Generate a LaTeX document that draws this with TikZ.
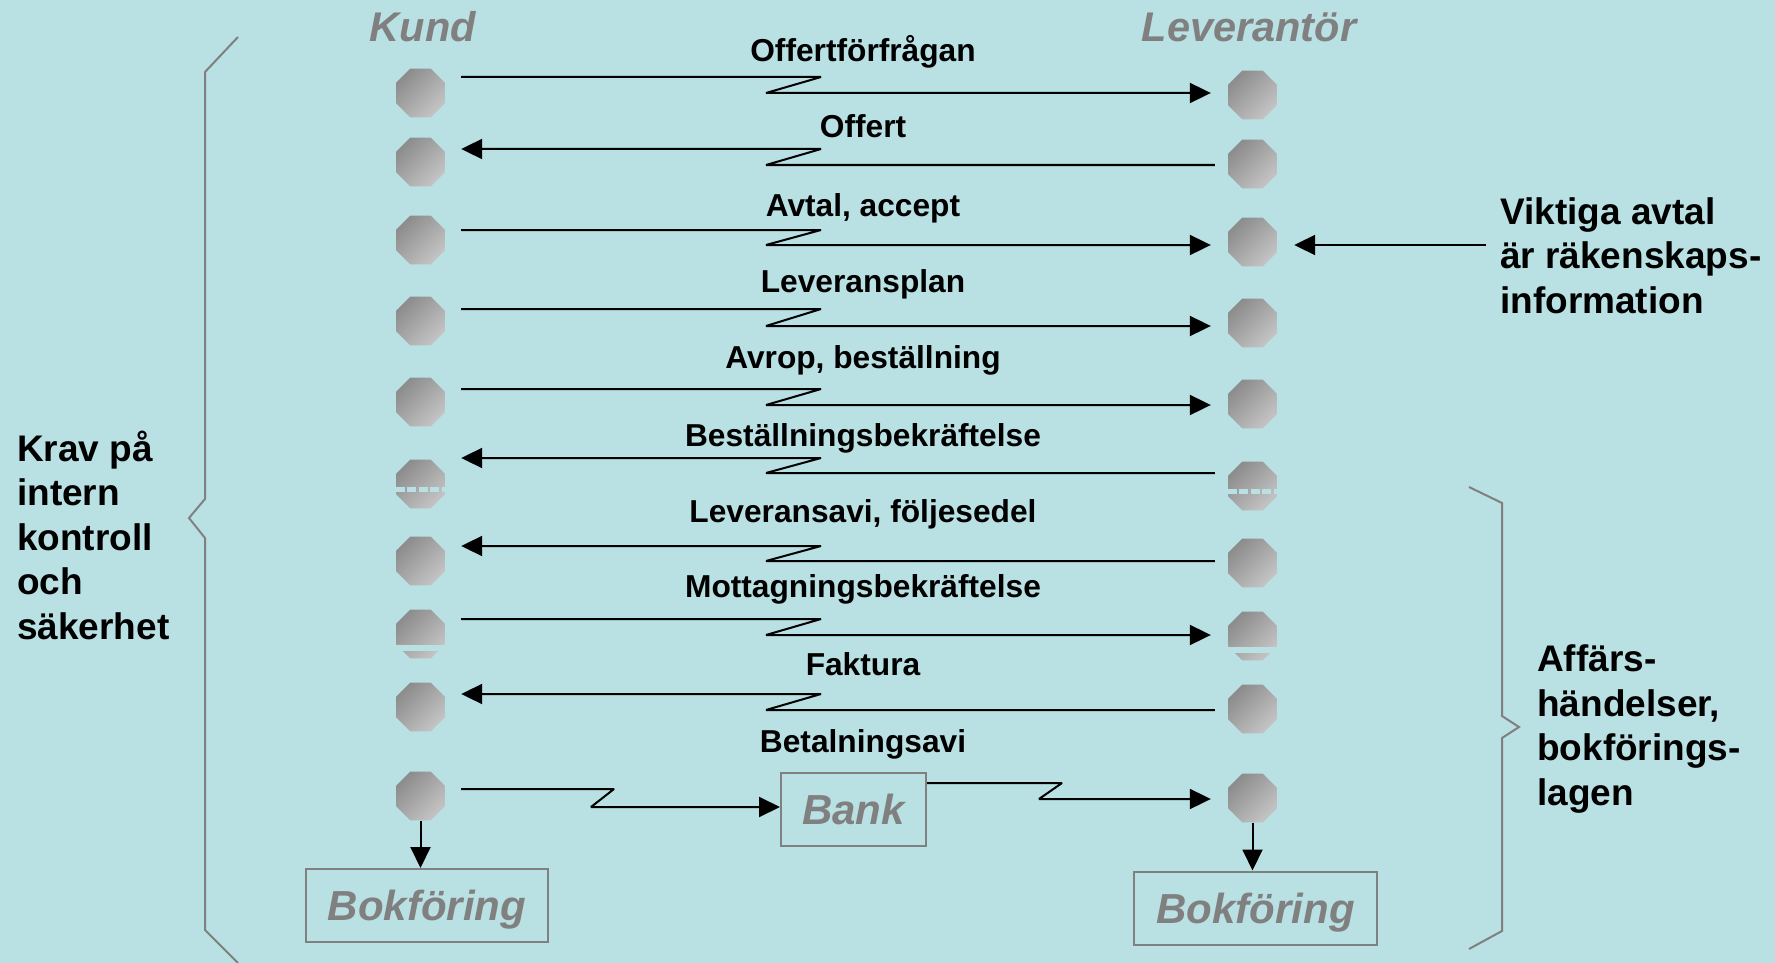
\documentclass[tikz,border=0pt]{standalone}
\usepackage{fontspec}
\setmainfont{Liberation Sans}
\usetikzlibrary{arrows.meta,shapes.geometric,calc}
\definecolor{bgcol}{RGB}{185,224,227}
\definecolor{linegray}{RGB}{128,128,128}
\definecolor{octdark}{RGB}{140,140,140}
\definecolor{octlight}{RGB}{196,196,196}
\begin{document}
\begin{tikzpicture}[x=1pt,y=-1pt,
  oct/.style={regular polygon, regular polygon sides=8, minimum size=53pt, inner sep=0pt,
              top color=octdark, bottom color=octlight, shading angle=45},
  msg/.style={draw=black, line width=2pt, line join=bevel, -{Triangle[length=21pt,width=20pt]}},
  lbl/.style={font=\fontsize{31.7}{38}\selectfont\bfseries, anchor=base, inner sep=0pt},
  side/.style={font=\fontsize{37}{44.5}\selectfont\bfseries, align=left, anchor=base west, inner sep=0pt},
  head/.style={font=\fontsize{41.5}{48}\selectfont\bfseries\itshape, text=linegray, anchor=base, inner sep=0pt},
  gbox/.style={draw=linegray, line width=2pt, font=\fontsize{42}{48}\selectfont\bfseries\itshape,
               text=linegray, minimum height=73pt, inner sep=0pt, text depth=0pt},
  brace/.style={draw=linegray, line width=2pt}
]
% canvas
\fill[bgcol] (0,0) rectangle (1775,963);
\useasboundingbox (0,0) rectangle (1775,963);

% column headers
\node[head] (hk) at (423,42) {Kund};
\node[head] (hl) at (1249,42) {Leverantör};

% customer and supplier stations
\foreach \i/\y in {1/93,2/162,3/240,4/321,5/402,6/484,7/561,8/634,9/707,10/796}{
  \node[oct] (k\i) at (420.5,\y) {};
  \node[oct] (l\i) at (1252.5,\y+2) {};
}

% broken station symbols
\foreach \n in {k6,l6}{
  \draw[bgcol, line width=5pt, dash pattern=on 9pt off 2.5pt]
    ($(\n.west)+(0,5.5)$) -- ($(\n.east)+(0,5.5)$);
}
\foreach \n in {k8,l8}{
  \fill[bgcol] ($(\n.center)+(-27,10.5)$) rectangle ($(\n.center)+(27,16.5)$);
}

% messages between customer and supplier
\foreach \i/\d/\u/\l/\b/\t in {
  1/r/77/93/62/Offertförfrågan,
  2/l/149/165/138/Offert,
  3/r/230/245/216/{Avtal, accept},
  4/r/309/326/292/Leveransplan,
  5/r/389/405/368/{Avrop, beställning},
  6/l/458/473/446/Beställningsbekräftelse,
  7/l/546/561/522/{Leveransavi, följesedel},
  8/r/619/635/597/Mottagningsbekräftelse,
  9/l/694/710/675/Faktura}{
  \node[lbl] (t\i) at (863,\b) {\t};
  \if\d r
    \draw[msg] ($(k\i.east|-0,\u)+(16,0)$) -- (821,\u) -- (766,\l) -- ($(l\i.west|-0,\l)+(-17,0)$);
  \else
    \draw[msg] ($(l\i.west|-0,\l)+(-13,0)$) -- (766,\l) -- (821,\u) -- ($(k\i.east|-0,\u)+(16,0)$);
  \fi
}

% payment via the bank
\node[lbl] (t10) at (863,752) {Betalningsavi};
\node[gbox, minimum width=145pt] (bank) at (853.5,809.5) {Bank};
\draw[msg] ($(k10.east|-0,789)+(16,0)$) -- (614,789) -- (591,807) -- (bank.west|-0,807);
\draw[msg] (bank.east|-0,783) -- (1062,783) -- (1039,799) -- ($(l10.west|-0,799)+(-17,0)$);

% bookkeeping
\node[gbox, minimum width=242pt] (bkk) at (427,905.5) {Bokföring};
\node[gbox, minimum width=243pt] (bkl) at (1255.5,908) {Bokföring};
\draw[msg] (k10.south) -- (k10.south|-bkk.north);
\draw[msg] (l10.south) -- (l10.south|-bkl.north);

% side notes (anchored at the baseline of their last line)
\node[side] (vk) at (1500,313) {Viktiga avtal\\är räkenskaps-\\information};
\draw[msg] ($(vk.west|-0,245)+(-14,0)$) -- ($(l3.east|-0,245)+(17,0)$);

\node[side] (krav) at (17,639) {Krav på\\intern\\kontroll\\och\\säkerhet};
\node[side] (aff) at (1537,805) {Affärs-\\händelser,\\bokförings-\\lagen};

% braces
\draw[brace] (238,37) -- (205,72) -- (205,499) -- (189,518) -- (205,538) -- (205,930) -- (238,963);
\draw[brace] (1469,487) -- (1502,503) -- (1502,716) -- (1519,727) -- (1502,738) -- (1502,931) -- (1469,949);
\end{tikzpicture}
\end{document}
